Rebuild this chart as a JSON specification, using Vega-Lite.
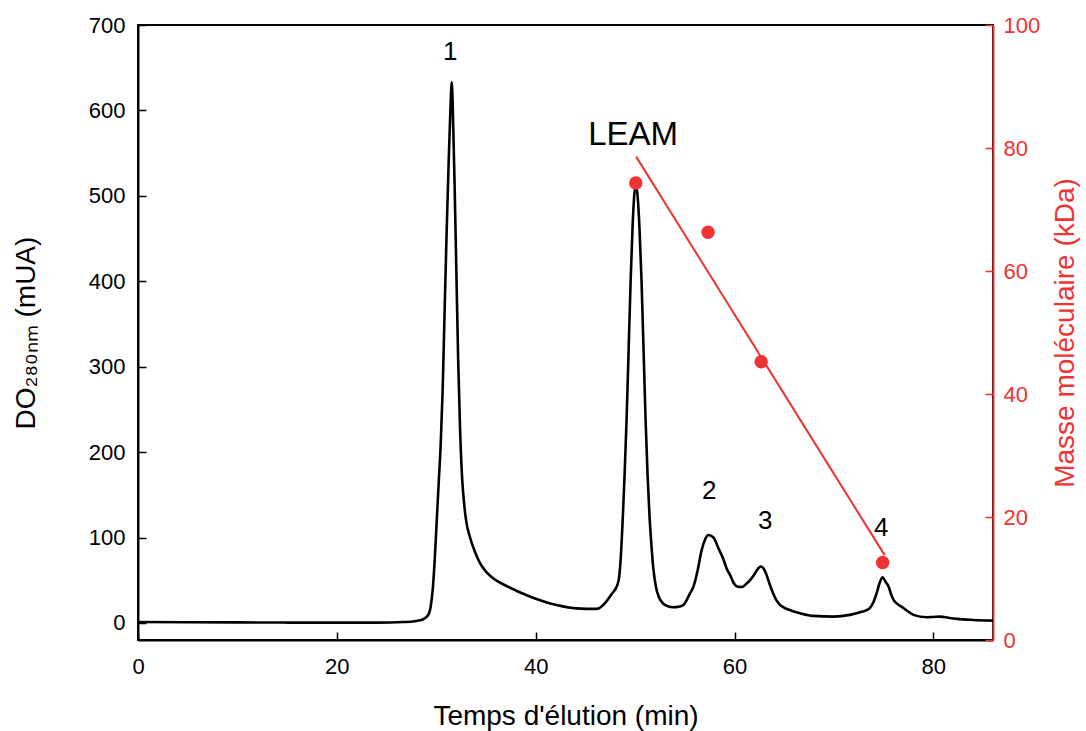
{
  "$schema": "https://vega.github.io/schema/vega-lite/v6.json",
  "width": 855,
  "height": 615,
  "autosize": "none",
  "padding": {"left": 138, "top": 25, "right": 93, "bottom": 91},
  "background": "white",
  "config": {
    "font": "Liberation Sans",
    "view": {"stroke": "black", "strokeWidth": 2},
    "axis": {"grid": false, "labelFontWeight": "normal", "titleFontWeight": "normal"}
  },
  "datasets": {
    "trace": [
      {"t": 0, "od": 1}, {"t": 5, "od": 0.8}, {"t": 10, "od": 0.6}, {"t": 15, "od": 0.4}, {"t": 20, "od": 0.3},
      {"t": 24, "od": 0.4}, {"t": 25.35, "od": 0.5}, {"t": 26.7, "od": 1}, {"t": 27.8, "od": 2}, {"t": 28.7, "od": 4.3},
      {"t": 29.2, "od": 9.4}, {"t": 29.45, "od": 20}, {"t": 29.65, "od": 40}, {"t": 29.85, "od": 75}, {"t": 30.05, "od": 120},
      {"t": 30.25, "od": 165}, {"t": 30.45, "od": 210}, {"t": 30.65, "od": 275}, {"t": 30.85, "od": 370}, {"t": 31.05, "od": 460},
      {"t": 31.25, "od": 540}, {"t": 31.42, "od": 600}, {"t": 31.56, "od": 633}, {"t": 31.7, "od": 585}, {"t": 31.85, "od": 510},
      {"t": 32.0, "od": 425}, {"t": 32.2, "od": 310}, {"t": 32.4, "od": 225}, {"t": 32.6, "od": 170}, {"t": 32.8, "od": 140},
      {"t": 33.0, "od": 120}, {"t": 33.4, "od": 100}, {"t": 33.9, "od": 83}, {"t": 34.4, "od": 70}, {"t": 35.0, "od": 60},
      {"t": 35.75, "od": 52}, {"t": 37.1, "od": 43}, {"t": 39.4, "od": 31}, {"t": 42.1, "od": 21}, {"t": 44.1, "od": 17},
      {"t": 46.15, "od": 16.4}, {"t": 46.8, "od": 21}, {"t": 47.65, "od": 34}, {"t": 48.2, "od": 44}, {"t": 48.4, "od": 54},
      {"t": 48.55, "od": 75}, {"t": 48.75, "od": 120}, {"t": 48.95, "od": 175}, {"t": 49.15, "od": 240}, {"t": 49.35, "od": 320},
      {"t": 49.55, "od": 400}, {"t": 49.75, "od": 465}, {"t": 49.95, "od": 505}, {"t": 50.1, "od": 512}, {"t": 50.25, "od": 500},
      {"t": 50.45, "od": 460}, {"t": 50.65, "od": 400}, {"t": 50.85, "od": 320}, {"t": 51.05, "od": 240}, {"t": 51.25, "od": 175},
      {"t": 51.45, "od": 125}, {"t": 51.65, "od": 90}, {"t": 51.85, "od": 62}, {"t": 52.1, "od": 42}, {"t": 52.4, "od": 30},
      {"t": 52.8, "od": 23}, {"t": 53.3, "od": 19.5}, {"t": 53.8, "od": 18.4}, {"t": 54.4, "od": 19}, {"t": 54.86, "od": 21},
      {"t": 55.5, "od": 34}, {"t": 55.87, "od": 42.5}, {"t": 56.3, "od": 62}, {"t": 56.7, "od": 85.5}, {"t": 57.05, "od": 98},
      {"t": 57.37, "od": 103}, {"t": 57.88, "od": 100}, {"t": 58.4, "od": 87}, {"t": 58.9, "od": 74}, {"t": 59.2, "od": 64},
      {"t": 59.56, "od": 56}, {"t": 59.9, "od": 47}, {"t": 60.2, "od": 43}, {"t": 60.73, "od": 42}, {"t": 61.2, "od": 46},
      {"t": 61.57, "od": 50}, {"t": 62.0, "od": 57}, {"t": 62.4, "od": 64}, {"t": 62.65, "od": 66}, {"t": 62.9, "od": 64},
      {"t": 63.2, "od": 57}, {"t": 63.4, "od": 50}, {"t": 63.8, "od": 37}, {"t": 64.1, "od": 29}, {"t": 64.5, "od": 22},
      {"t": 64.9, "od": 18.4}, {"t": 65.8, "od": 14}, {"t": 66.6, "od": 11.3}, {"t": 67.9, "od": 8.2}, {"t": 69.95, "od": 7.4},
      {"t": 71.6, "od": 9.4}, {"t": 72.8, "od": 13}, {"t": 73.6, "od": 17.2}, {"t": 74.0, "od": 25}, {"t": 74.3, "od": 34.8},
      {"t": 74.6, "od": 47}, {"t": 74.9, "od": 53.5}, {"t": 75.2, "od": 48}, {"t": 75.5, "od": 42.5}, {"t": 75.8, "od": 32},
      {"t": 76.0, "od": 27}, {"t": 76.4, "od": 22}, {"t": 76.8, "od": 19}, {"t": 77.4, "od": 14}, {"t": 78.0, "od": 9.4},
      {"t": 79.3, "od": 6.7}, {"t": 80.0, "od": 7}, {"t": 80.7, "od": 7.4}, {"t": 81.5, "od": 6}, {"t": 82.4, "od": 4.7},
      {"t": 84.0, "od": 3.5}, {"t": 86, "od": 2.7}
    ],
    "peaks": [
      {"t": 31.4, "od": 668, "label": "1"},
      {"t": 57.45, "od": 155, "label": "2"},
      {"t": 63.1, "od": 119, "label": "3"},
      {"t": 74.75, "od": 111, "label": "4"}
    ],
    "leam": [{"t": 49.8, "od": 571, "label": "LEAM"}],
    "fit": [{"t": 50.1, "mw": 78.6}, {"t": 75.1, "mw": 13.8}],
    "std": [
      {"t": 50.07, "mw": 74.3},
      {"t": 57.34, "mw": 66.3},
      {"t": 62.68, "mw": 45.25},
      {"t": 74.9, "mw": 12.6}
    ]
  },
  "layer": [
    {
      "layer": [
        {
          "data": {"name": "trace"},
          "mark": {"type": "line", "color": "black", "strokeWidth": 2.6, "interpolate": "monotone"},
          "encoding": {
            "x": {
              "field": "t", "type": "quantitative",
              "scale": {"domain": [0, 86], "nice": false},
              "axis": {
                "title": "Temps d'élution (min)", "values": [0, 20, 40, 60, 80],
                "domainColor": "black", "domainWidth": 2, "tickColor": "black", "tickWidth": 1.5, "tickSize": -8,
                "labelFontSize": 22, "labelColor": "black", "labelPadding": 24, "labelFlush": false,
                "titleFontSize": 28, "titleColor": "black", "titlePadding": 25
              }
            },
            "y": {
              "field": "od", "type": "quantitative",
              "scale": {"domain": [-20, 700], "nice": false},
              "axis": {
                "title": "DO₂₈₀ₙₘ (mUA)", "values": [0, 100, 200, 300, 400, 500, 600, 700],
                "domainColor": "black", "domainWidth": 2, "tickColor": "black", "tickWidth": 1.5, "tickSize": -8,
                "labelFontSize": 22, "labelColor": "black", "labelPadding": 21, "labelFlush": false,
                "titleFontSize": 28, "titleColor": "black", "titlePadding": 48
              }
            }
          }
        },
        {
          "data": {"name": "peaks"},
          "mark": {"type": "text", "fontSize": 26, "color": "black", "baseline": "middle", "align": "center"},
          "encoding": {
            "x": {"field": "t", "type": "quantitative"},
            "y": {"field": "od", "type": "quantitative"},
            "text": {"field": "label"}
          }
        },
        {
          "data": {"name": "leam"},
          "mark": {"type": "text", "fontSize": 33, "color": "black", "baseline": "middle", "align": "center"},
          "encoding": {
            "x": {"field": "t", "type": "quantitative"},
            "y": {"field": "od", "type": "quantitative"},
            "text": {"field": "label"}
          }
        }
      ]
    },
    {
      "layer": [
        {
          "data": {"name": "fit"},
          "mark": {"type": "line", "color": "#ee3333", "strokeWidth": 2},
          "encoding": {
            "x": {"field": "t", "type": "quantitative"},
            "y": {
              "field": "mw", "type": "quantitative",
              "scale": {"domain": [0, 100], "nice": false},
              "axis": {
                "orient": "right", "title": "Masse moléculaire (kDa)", "values": [0, 20, 40, 60, 80, 100],
                "domainColor": "#ee3333", "domainWidth": 2, "tickColor": "#ee3333", "tickWidth": 1.5, "tickSize": -8,
                "labelFontSize": 22, "labelColor": "#ee3333", "labelPadding": 18, "labelFlush": false,
                "titleFontSize": 28, "titleColor": "#ee3333", "titleAngle": 270, "titleBaseline": "top", "titlePadding": 12
              }
            }
          }
        },
        {
          "data": {"name": "std"},
          "mark": {"type": "circle", "size": 180, "color": "#ee3333", "opacity": 1},
          "encoding": {
            "x": {"field": "t", "type": "quantitative"},
            "y": {"field": "mw", "type": "quantitative"}
          }
        }
      ]
    }
  ],
  "resolve": {"scale": {"y": "independent"}}
}
